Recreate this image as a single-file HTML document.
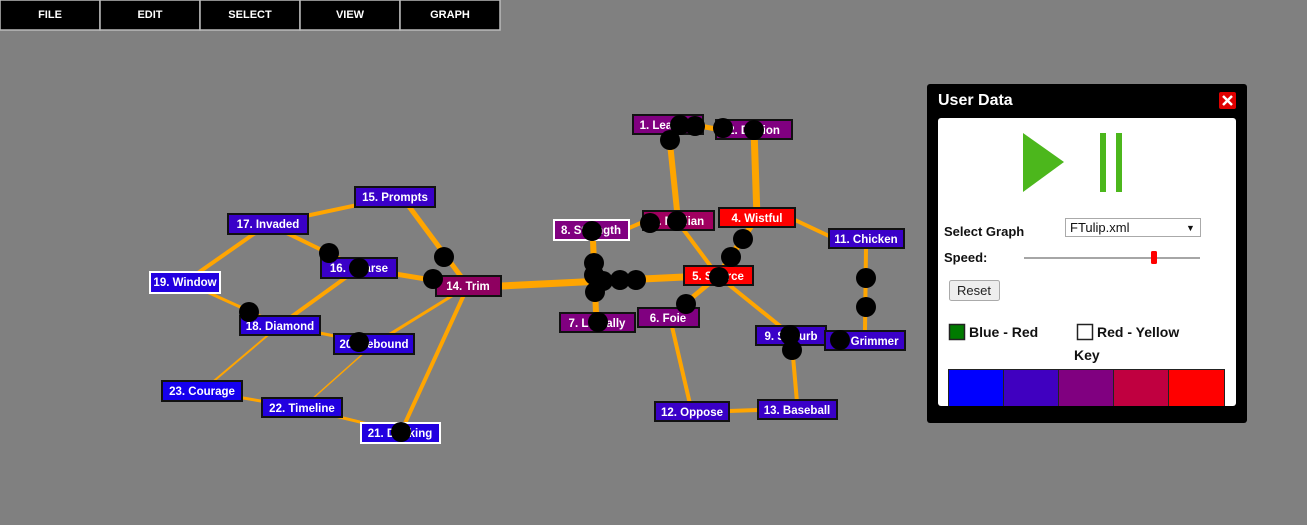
<!DOCTYPE html>
<html><head><meta charset="utf-8"><style>
html,body{margin:0;padding:0;width:1307px;height:525px;overflow:hidden;background:#808080;font-family:"Liberation Sans",Arial,sans-serif}
svg{position:absolute;left:0;top:0}
</style></head><body>
<svg width="1307" height="525" viewBox="0 0 1307 525" font-family="Liberation Sans, Arial, sans-serif">
<g font-size="11" font-weight="bold" fill="#fff" text-anchor="middle">
<rect x="0" y="0" width="100" height="30" fill="#000" stroke="#bbb" stroke-width="1.5"/>
<rect x="100" y="0" width="100" height="30" fill="#000" stroke="#bbb" stroke-width="1.5"/>
<rect x="200" y="0" width="100" height="30" fill="#000" stroke="#bbb" stroke-width="1.5"/>
<rect x="300" y="0" width="100" height="30" fill="#000" stroke="#bbb" stroke-width="1.5"/>
<rect x="400" y="0" width="100" height="30" fill="#000" stroke="#bbb" stroke-width="1.5"/>
<text x="50" y="18">FILE</text><text x="150" y="18">EDIT</text><text x="250" y="18">SELECT</text><text x="350" y="18">VIEW</text><text x="450" y="18">GRAPH</text>
</g>
<g stroke="#ffa500" stroke-linecap="butt">
<line x1="668" y1="124" x2="678" y2="220" stroke-width="6"/>
<line x1="754" y1="130" x2="757" y2="217" stroke-width="7"/>
<line x1="700" y1="126" x2="716" y2="129" stroke-width="5"/>
<line x1="629" y1="228" x2="643" y2="222" stroke-width="4"/>
<line x1="680" y1="225" x2="718" y2="276" stroke-width="4"/>
<line x1="757" y1="217" x2="718" y2="276" stroke-width="6"/>
<line x1="795" y1="220" x2="829" y2="236" stroke-width="4"/>
<line x1="501" y1="286" x2="684" y2="277" stroke-width="7"/>
<line x1="593" y1="240" x2="596" y2="313" stroke-width="6"/>
<line x1="718" y1="276" x2="670" y2="316" stroke-width="5"/>
<line x1="718" y1="276" x2="785" y2="330" stroke-width="4"/>
<line x1="670" y1="318" x2="690" y2="404" stroke-width="4"/>
<line x1="792" y1="345" x2="797" y2="402" stroke-width="4"/>
<line x1="729" y1="411" x2="758" y2="410" stroke-width="4"/>
<line x1="866" y1="248" x2="865" y2="331" stroke-width="4"/>
<line x1="468" y1="286" x2="402" y2="197" stroke-width="5"/>
<line x1="468" y1="286" x2="359" y2="268" stroke-width="5"/>
<line x1="468" y1="286" x2="374" y2="344" stroke-width="3"/>
<line x1="468" y1="286" x2="401" y2="432" stroke-width="4"/>
<line x1="395" y1="197" x2="268" y2="224" stroke-width="4"/>
<line x1="268" y1="224" x2="359" y2="268" stroke-width="4"/>
<line x1="268" y1="224" x2="185" y2="282" stroke-width="4"/>
<line x1="185" y1="282" x2="280" y2="325" stroke-width="3"/>
<line x1="359" y1="268" x2="280" y2="325" stroke-width="4"/>
<line x1="280" y1="325" x2="374" y2="344" stroke-width="3"/>
<line x1="280" y1="325" x2="202" y2="391" stroke-width="2"/>
<line x1="374" y1="344" x2="302" y2="408" stroke-width="1.5"/>
<line x1="202" y1="391" x2="302" y2="408" stroke-width="3"/>
<line x1="302" y1="408" x2="401" y2="432" stroke-width="3"/>
</g>
<g font-size="11.5" font-weight="bold" fill="#fff" stroke-width="2" text-anchor="middle">
<rect x="633" y="115" width="70" height="19" fill="#800080" stroke="#111"/><text x="668" y="129">1. Leading</text>
<rect x="716" y="120" width="76" height="19" fill="#800080" stroke="#111"/><text x="754" y="134">2. Diction</text>
<rect x="643" y="211" width="71" height="19" fill="#a00060" stroke="#111"/><text x="678" y="225">3. Median</text>
<rect x="719" y="208" width="76" height="19" fill="#ff0000" stroke="#111"/><text x="757" y="222">4. Wistful</text>
<rect x="684" y="266" width="69" height="19" fill="#ff0000" stroke="#111"/><text x="718" y="280">5. Source</text>
<rect x="638" y="308" width="61" height="19" fill="#800080" stroke="#111"/><text x="668" y="322">6. Foie</text>
<rect x="560" y="313" width="75" height="19" fill="#800080" stroke="#111"/><text x="597" y="327">7. Literally</text>
<rect x="554" y="220" width="75" height="20" fill="#800080" stroke="#fff"/><text x="591" y="234">8. Strength</text>
<rect x="756" y="326" width="70" height="19" fill="#3a00c8" stroke="#111"/><text x="791" y="340">9. Suburb</text>
<rect x="825" y="331" width="80" height="19" fill="#3a00c8" stroke="#111"/><text x="865" y="345">10. Grimmer</text>
<rect x="829" y="229" width="75" height="19" fill="#3a00c8" stroke="#111"/><text x="866" y="243">11. Chicken</text>
<rect x="655" y="402" width="74" height="19" fill="#3a00c8" stroke="#111"/><text x="692" y="416">12. Oppose</text>
<rect x="758" y="400" width="79" height="19" fill="#3a00c8" stroke="#111"/><text x="797" y="414">13. Baseball</text>
<rect x="436" y="276" width="65" height="20" fill="#8e0060" stroke="#111"/><text x="468" y="290">14. Trim</text>
<rect x="355" y="187" width="80" height="20" fill="#3a00c8" stroke="#111"/><text x="395" y="201">15. Prompts</text>
<rect x="321" y="258" width="76" height="20" fill="#3a00c8" stroke="#111"/><text x="359" y="272">16. Coarse</text>
<rect x="228" y="214" width="80" height="20" fill="#3a00c8" stroke="#111"/><text x="268" y="228">17. Invaded</text>
<rect x="240" y="316" width="80" height="19" fill="#2a00d8" stroke="#111"/><text x="280" y="330">18. Diamond</text>
<rect x="150" y="272" width="70" height="21" fill="#2200e0" stroke="#fff"/><text x="185" y="286">19. Window</text>
<rect x="334" y="334" width="80" height="20" fill="#2a00d8" stroke="#111"/><text x="374" y="348">20. Rebound</text>
<rect x="361" y="423" width="79" height="20" fill="#2200e0" stroke="#fff"/><text x="400" y="437">21. Docking</text>
<rect x="262" y="398" width="80" height="19" fill="#2200e0" stroke="#111"/><text x="302" y="412">22. Timeline</text>
<rect x="162" y="381" width="80" height="20" fill="#1500ee" stroke="#111"/><text x="202" y="395">23. Courage</text>
</g>
<g fill="#000">
<circle cx="680" cy="125" r="10"/><circle cx="695" cy="126" r="10"/><circle cx="670" cy="140" r="10"/><circle cx="723" cy="128" r="10"/><circle cx="754" cy="130" r="10"/>
<circle cx="650" cy="223" r="10"/><circle cx="677" cy="221" r="10"/><circle cx="592" cy="231" r="10"/>
<circle cx="594" cy="263" r="10"/><circle cx="594" cy="275" r="10"/><circle cx="603" cy="281" r="10"/><circle cx="620" cy="280" r="10"/><circle cx="636" cy="280" r="10"/><circle cx="595" cy="292" r="10"/>
<circle cx="743" cy="239" r="10"/><circle cx="731" cy="257" r="10"/><circle cx="719" cy="277" r="10"/><circle cx="686" cy="304" r="10"/><circle cx="598" cy="322" r="10"/>
<circle cx="790" cy="335" r="10"/><circle cx="792" cy="350" r="10"/><circle cx="840" cy="340" r="10"/><circle cx="866" cy="278" r="10"/><circle cx="866" cy="307" r="10"/>
<circle cx="329" cy="253" r="10"/><circle cx="359" cy="268" r="10"/><circle cx="444" cy="257" r="10"/><circle cx="433" cy="279" r="10"/><circle cx="249" cy="312" r="10"/><circle cx="359" cy="342" r="10"/><circle cx="401" cy="432" r="10"/>
</g>
<rect x="927" y="84" width="320" height="339" rx="3" fill="#000"/>
<text x="938" y="105" font-size="16" font-weight="bold" fill="#fff">User Data</text>
<rect x="1219" y="92" width="17" height="17" rx="2" fill="#e00000"/>
<path d="M1223 96 L1232 105 M1232 96 L1223 105" stroke="#fff" stroke-width="2.5"/>
<rect x="938" y="118" width="298" height="288" rx="3" fill="#fff"/>
<polygon points="1023,133 1064,162 1023,192" fill="#4cb71c"/>
<rect x="1100" y="133" width="6" height="59" fill="#4cb71c"/>
<rect x="1116" y="133" width="6" height="59" fill="#4cb71c"/>
<text x="944" y="236" font-size="13" font-weight="bold" fill="#111">Select Graph</text>
<rect x="1065.5" y="218.5" width="135" height="18" fill="#fff" stroke="#aaa"/>
<text x="1070" y="232" font-size="13" fill="#111">FTulip.xml</text>
<text x="1186" y="231" font-size="9" fill="#111">▼</text>
<text x="944" y="262" font-size="13" font-weight="bold" fill="#111">Speed:</text>
<line x1="1024" y1="258" x2="1200" y2="258" stroke="#888" stroke-width="1.5"/>
<rect x="1151" y="251" width="6" height="13" rx="1.5" fill="#f00"/>
<rect x="949.5" y="280.5" width="50" height="20" rx="2" fill="#eee" stroke="#aaa"/>
<text x="974" y="295" font-size="13" fill="#222" text-anchor="middle">Reset</text>
<rect x="949.5" y="324.5" width="15" height="15" fill="#007a00" stroke="#222" stroke-width="1.5"/>
<text x="969" y="337" font-size="14" font-weight="bold" fill="#111">Blue - Red</text>
<rect x="1077.5" y="324.5" width="15" height="15" fill="#fff" stroke="#222" stroke-width="1.5"/>
<text x="1097" y="337" font-size="14" font-weight="bold" fill="#111">Red - Yellow</text>
<text x="1074" y="360" font-size="14" font-weight="bold" fill="#111">Key</text>
<g stroke="#222" stroke-width="1">
<rect x="948.5" y="369.5" width="55" height="37" fill="#0000ff"/>
<rect x="1003.5" y="369.5" width="55" height="37" fill="#4000c0"/>
<rect x="1058.5" y="369.5" width="55" height="37" fill="#800080"/>
<rect x="1113.5" y="369.5" width="55" height="37" fill="#c00040"/>
<rect x="1168.5" y="369.5" width="56" height="37" fill="#ff0000"/>
</g>
<rect x="938" y="406" width="298" height="17" fill="#000"/>
</svg>
</body></html>
